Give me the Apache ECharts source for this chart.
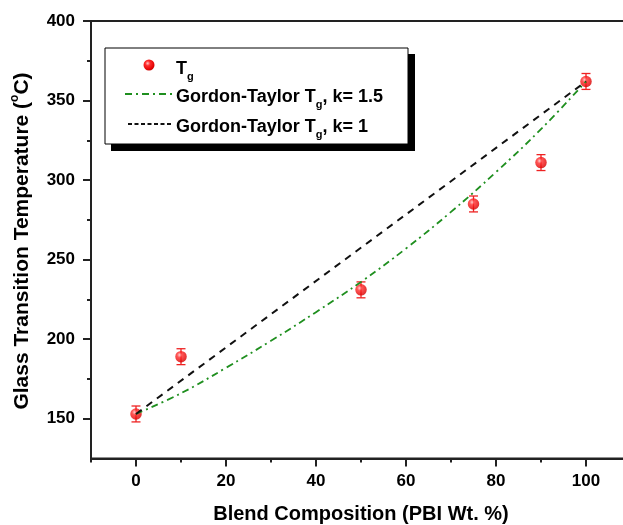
<!DOCTYPE html>
<html>
<head>
<meta charset="utf-8">
<script src="https://cdn.jsdelivr.net/npm/echarts@6/dist/echarts.min.js"></script>
<style>
  html, body { margin: 0; padding: 0; background: #fff; }
  #chart { width: 623px; height: 525px; }
</style>
</head>
<body>
<div id="chart"></div>
<script>
// Measured glass transition temperatures of the blends
const composition = [0, 10, 50, 75, 90, 100];
const tgMeasured = [153, 189, 231, 285, 311, 362];
const tgError = [5, 5, 5, 5, 5, 5];

// Gordon-Taylor predictions
const gtComposition = [0, 10, 20, 30, 40, 50, 60, 70, 80, 90, 100];
const gtK15 = [153, 166, 182, 199, 217, 236, 257, 280, 305, 332, 362];
const gtK1Composition = [0, 100];
const gtK1 = [153, 362];

// Axis ticks
const xMajorTicks = [0, 20, 40, 60, 80, 100];
const xMinorTicks = [-10, 10, 30, 50, 70, 90, 110];
const yMajorTicks = [150, 200, 250, 300, 350, 400];
const yMinorTicks = [175, 225, 275, 325, 375];

const FONT = '"Liberation Sans", Arial, sans-serif';
const AXIS_COLOR = '#222';

const chart = echarts.init(document.getElementById('chart'), null, { renderer: 'canvas' });

const measuredData = composition.map((c, i) => [c, tgMeasured[i], tgError[i]]);
const k15Data = gtComposition.map((c, i) => [c, gtK15[i]]);
const k1Data = gtK1Composition.map((c, i) => [c, gtK1[i]]);

const pointFill = {
  type: 'radial', x: 0.38, y: 0.35, r: 0.75,
  colorStops: [
    { offset: 0, color: '#ffc4c4' },
    { offset: 0.3, color: '#ff2a2a' },
    { offset: 0.8, color: '#e00000' },
    { offset: 1, color: '#b00000' }
  ]
};

function baseX(extra) {
  return Object.assign({
    type: 'value', min: -10, max: 110, position: 'bottom',
    splitLine: { show: false }
  }, extra);
}
function baseY(extra) {
  return Object.assign({
    type: 'value', min: 125, max: 400, position: 'left',
    splitLine: { show: false }
  }, extra);
}

const legendRich = {
  n: { fontFamily: FONT, fontWeight: 'bold', fontSize: 18, lineHeight: 26, fill: '#000' },
  b: { fontFamily: FONT, fontWeight: 'bold', fontSize: 11, lineHeight: 11, verticalAlign: 'bottom', fill: '#000' }
};

const option = {
  animation: false,
  backgroundColor: '#fff',
  grid: {
    left: 91, top: 21, width: 540, height: 437.5,
    show: true, borderColor: AXIS_COLOR, borderWidth: 2,
    backgroundColor: 'transparent',
    outerBoundsMode: 'none'
  },
  xAxis: [
    baseX({
      axisLine: { show: true, onZero: false, lineStyle: { color: AXIS_COLOR, width: 2 } },
      axisTick: { show: true, customValues: xMajorTicks, length: 8, lineStyle: { color: AXIS_COLOR, width: 2 } },
      axisLabel: {
        customValues: xMajorTicks, margin: 14,
        color: '#000', fontFamily: FONT, fontWeight: 'bold', fontSize: 17
      }
    }),
    baseX({
      axisLine: { show: false, onZero: false },
      axisTick: { show: true, customValues: xMinorTicks, length: 4, lineStyle: { color: AXIS_COLOR, width: 2 } },
      axisLabel: { show: false }
    })
  ],
  yAxis: [
    baseY({
      axisLine: { show: true, onZero: false, lineStyle: { color: AXIS_COLOR, width: 2 } },
      axisTick: { show: true, customValues: yMajorTicks, length: 8, lineStyle: { color: AXIS_COLOR, width: 2 } },
      axisLabel: {
        customValues: yMajorTicks, margin: 16,
        color: '#000', fontFamily: FONT, fontWeight: 'bold', fontSize: 17
      }
    }),
    baseY({
      axisLine: { show: false, onZero: false },
      axisTick: { show: true, customValues: yMinorTicks, length: 4, lineStyle: { color: AXIS_COLOR, width: 2 } },
      axisLabel: { show: false }
    })
  ],
  series: [
    {
      name: 'Tg error',
      type: 'custom',
      xAxisIndex: 0, yAxisIndex: 0,
      data: measuredData,
      z: 2,
      renderItem: function (params, api) {
        const x = api.value(0), y = api.value(1), e = api.value(2);
        const top = api.coord([x, y + e]);
        const bot = api.coord([x, y - e]);
        const hw = 4.5;
        const st = { stroke: '#ee2222', lineWidth: 1.3 };
        return {
          type: 'group',
          children: [
            { type: 'line', shape: { x1: top[0], y1: top[1], x2: bot[0], y2: bot[1] }, style: st },
            { type: 'line', shape: { x1: top[0] - hw, y1: top[1], x2: top[0] + hw, y2: top[1] }, style: st },
            { type: 'line', shape: { x1: bot[0] - hw, y1: bot[1], x2: bot[0] + hw, y2: bot[1] }, style: st }
          ]
        };
      }
    },
    {
      name: 'Tg',
      type: 'scatter',
      xAxisIndex: 0, yAxisIndex: 0,
      data: measuredData.map(d => [d[0], d[1]]),
      symbol: 'circle',
      symbolSize: 11.5,
      itemStyle: { color: pointFill },
      z: 3
    },
    {
      name: 'Gordon-Taylor Tg, k= 1.5',
      type: 'line',
      xAxisIndex: 0, yAxisIndex: 0,
      data: k15Data,
      smooth: 0.4,
      showSymbol: false,
      lineStyle: { color: '#1f8f1f', width: 1.8, type: [7, 4, 2, 4] },
      z: 4
    },
    {
      name: 'Gordon-Taylor Tg, k= 1',
      type: 'line',
      xAxisIndex: 0, yAxisIndex: 0,
      data: k1Data,
      showSymbol: false,
      lineStyle: { color: '#111', width: 2, type: [7, 6] },
      z: 4
    }
  ],
  graphic: [
    // axis titles
    {
      type: 'text', x: 361, y: 514,
      style: {
        text: 'Blend Composition (PBI Wt. %)',
        fill: '#000', font: 'bold 20px ' + FONT,
        align: 'center', verticalAlign: 'middle'
      }
    },
    {
      type: 'text', x: 22, y: 241, rotation: Math.PI / 2,
      style: {
        text: '{n|Glass Transition Temperature (}{s|o}{n|C)}',
        fill: '#000', align: 'center', verticalAlign: 'middle',
        rich: {
          n: { fontFamily: FONT, fontWeight: 'bold', fontSize: 21, lineHeight: 26, fill: '#000' },
          s: { fontFamily: FONT, fontWeight: 'bold', fontSize: 12, lineHeight: 12, verticalAlign: 'top', fill: '#000' }
        }
      }
    },
    // legend box with drop shadow
    { type: 'rect', shape: { x: 111, y: 54, width: 304, height: 97 }, style: { fill: '#000' }, z: 10 },
    { type: 'rect', shape: { x: 105, y: 48, width: 303, height: 96 }, style: { fill: '#fff', stroke: '#000', lineWidth: 1 }, z: 11 },
    { type: 'circle', shape: { cx: 149, cy: 65, r: 5.5 }, style: { fill: pointFill }, z: 12 },
    {
      type: 'text', x: 176, y: 69, z: 12,
      style: { text: '{n|T}{b|g}', verticalAlign: 'middle', rich: legendRich }
    },
    {
      type: 'line', z: 12,
      shape: { x1: 125, y1: 94, x2: 173, y2: 94 },
      style: { stroke: '#1f8f1f', lineWidth: 1.8, lineDash: [7, 4, 2, 4] }
    },
    {
      type: 'text', x: 176, y: 97, z: 12,
      style: { text: '{n|Gordon-Taylor T}{b|g}{n|, k= 1.5}', verticalAlign: 'middle', rich: legendRich }
    },
    {
      type: 'line', z: 12,
      shape: { x1: 128, y1: 124, x2: 173, y2: 124 },
      style: { stroke: '#111', lineWidth: 2, lineDash: [4, 2.5] }
    },
    {
      type: 'text', x: 176, y: 127, z: 12,
      style: { text: '{n|Gordon-Taylor T}{b|g}{n|, k= 1}', verticalAlign: 'middle', rich: legendRich }
    }
  ]
};

chart.setOption(option);
</script>
</body>
</html>
